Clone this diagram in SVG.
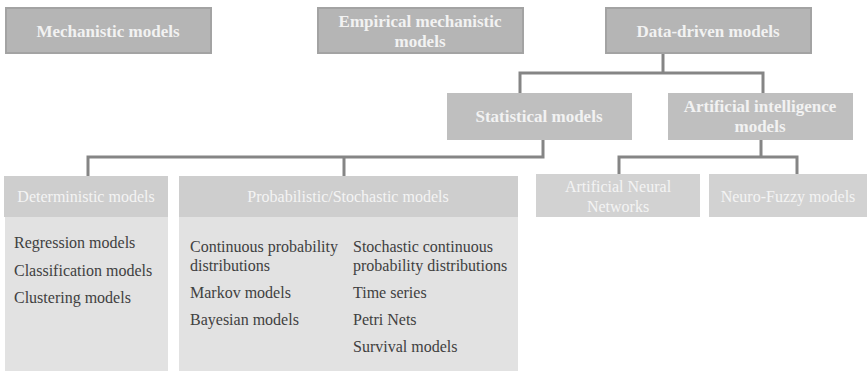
<svg xmlns="http://www.w3.org/2000/svg" width="868" height="371" viewBox="0 0 868 371">
<style>
.top{fill:#b5b5b5;stroke:#a3a3a3;stroke-width:2}
.mid{fill:#bfbfbf}
.hdr{fill:#cecece}
.body{fill:#e2e2e2}
.ai2{fill:#d2d2d2}
.tb{font-family:"Liberation Serif","Times New Roman",serif;font-weight:bold;font-size:17px;fill:#f2f2f2;text-anchor:middle}
.th{font-family:"Liberation Serif","Times New Roman",serif;font-size:16px;fill:#f4f4f4;text-anchor:middle}
.tl{font-family:"Liberation Serif","Times New Roman",serif;font-size:16px;fill:#404040}
.con{fill:none;stroke:#858585;stroke-width:3}
</style>
<g id="connectors">
<path class="con" d="M663 53 V73 M520 93 V73 H763 V93"/>
<path class="con" d="M543 140 V157 H88 V176 M344 157 V176"/>
<path class="con" d="M761 140 V157 M619 174 V157 H797 V174"/>
</g>
<g id="mechanistic">
<rect class="top" x="6" y="8" width="205" height="45"/>
<text class="tb" x="108" y="37">Mechanistic models</text>
</g>
<g id="empirical">
<rect class="top" x="318" y="8" width="205" height="45"/>
<text class="tb" x="420" y="27">Empirical mechanistic</text>
<text class="tb" x="420" y="47">models</text>
</g>
<g id="datadriven">
<rect class="top" x="606" y="8" width="205" height="45"/>
<text class="tb" x="708" y="37">Data-driven models</text>
</g>
<g id="statistical">
<rect class="mid" x="447" y="93" width="185" height="47"/>
<text class="tb" x="539" y="122">Statistical models</text>
</g>
<g id="ai">
<rect class="mid" x="668" y="93" width="185" height="47"/>
<text class="tb" x="760" y="112">Artificial intelligence</text>
<text class="tb" x="760" y="132">models</text>
</g>
<g id="ann">
<rect class="ai2" x="536" y="174" width="164" height="43"/>
<text class="th" x="618" y="192">Artificial Neural</text>
<text class="th" x="618" y="212">Networks</text>
</g>
<g id="neurofuzzy">
<rect class="ai2" x="709" y="174" width="158" height="43"/>
<text class="th" x="788" y="202">Neuro-Fuzzy models</text>
</g>
<g id="deterministic">
<rect class="hdr" x="4" y="176" width="164" height="41"/>
<rect class="body" x="5" y="217" width="163" height="154"/>
<text class="th" x="86" y="202">Deterministic models</text>
<text class="tl" x="14" y="248">Regression models</text>
<text class="tl" x="14" y="276">Classification models</text>
<text class="tl" x="14" y="303">Clustering models</text>
</g>
<g id="probabilistic">
<rect class="hdr" x="179" y="176" width="339" height="41"/>
<rect class="body" x="179" y="217" width="339" height="154"/>
<text class="th" x="348" y="202">Probabilistic/Stochastic models</text>
<text class="tl" x="190" y="252">Continuous probability</text>
<text class="tl" x="190" y="271">distributions</text>
<text class="tl" x="190" y="298">Markov models</text>
<text class="tl" x="190" y="325">Bayesian models</text>
<text class="tl" x="353" y="252">Stochastic continuous</text>
<text class="tl" x="353" y="271">probability distributions</text>
<text class="tl" x="353" y="298">Time series</text>
<text class="tl" x="353" y="325">Petri Nets</text>
<text class="tl" x="353" y="352">Survival models</text>
</g>
</svg>
